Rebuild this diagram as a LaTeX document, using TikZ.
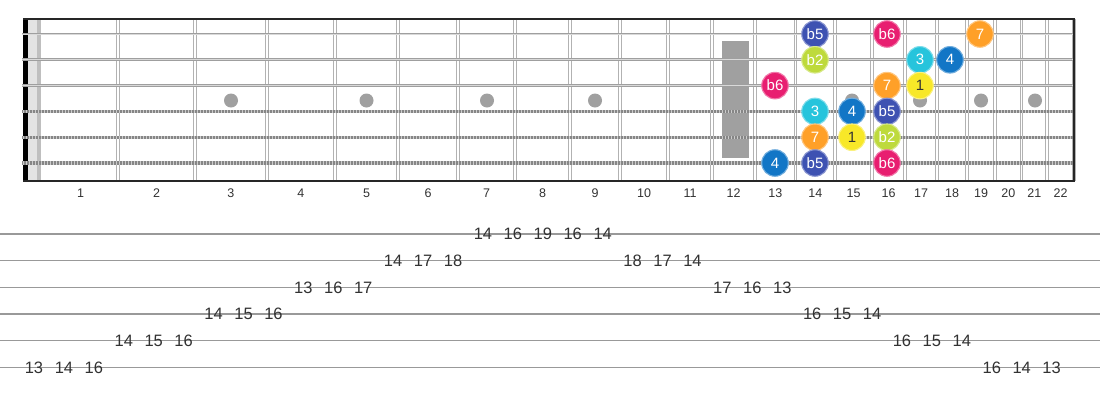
\documentclass[tikz,border=0pt]{standalone}
\usepackage{fontspec}
\setmainfont{Liberation Sans}
\definecolor{cflat5}{RGB}{62,82,178}
\definecolor{cflat6}{RGB}{232,30,112}
\definecolor{cseven}{RGB}{255,160,40}
\definecolor{cflat2}{RGB}{190,218,60}
\definecolor{cthree}{RGB}{38,196,220}
\definecolor{cfour}{RGB}{18,118,198}
\definecolor{cone}{RGB}{248,232,40}
\definecolor{inlay}{RGB}{160,160,160}
\definecolor{txt}{RGB}{50,50,50}
\tikzset{
  fret/.style={draw=gray!60, double=white, double distance=1.8pt, line width=0.9pt},
  plainstr/.style={draw=gray!75, double=gray!30, double distance=1pt, line width=0.9pt},
  woundstr/.style={draw=gray!40, line width=3.4pt},
  woundtex/.style={draw=gray!95, line width=3.4pt, dash pattern=on 0.7pt off 0.8pt},
  fretdot/.style={circle, fill=inlay, minimum size=14pt, inner sep=0pt},
  fretnum/.style={text=txt, font=\fontsize{12.5}{15}\selectfont},
  note/.style={circle, minimum size=26.5pt, inner sep=0pt, line width=1.1pt,
    text=white, font=\fontsize{15}{17}\selectfont},
  tabline/.style={draw=gray!80, line width=1.5pt},
  tabnum/.style={text=txt, inner sep=0pt, font=\fontsize{16.5}{19}\selectfont}
}
\begin{document}
\begin{tikzpicture}[x=1pt,y=-1pt]
\useasboundingbox (0,0) rectangle (1100,400);
% nut
\fill[black] (23,19) rectangle (28,181);
\fill[gray!22] (28,19) rectangle (37,181);
\fill[gray!50] (37,19) rectangle (41,181);
% frets with their numbers
\foreach \x [remember=\x as \lastx (initially 43), count=\n] in {118,195,266.7,335,398,458,515,570,620,668,712,755,795.5,835,872,905,937,967,995,1021.5,1047,1074}{
  \draw[fret] (\x,19) -- (\x,181);
  \node[fretnum] (fn\n) at ({(\x+\lastx)/2},193.5) {\n};
}
% inlays
\foreach \f/\x in {3/231,5/366.5,7/487,9/595,15/852,17/920,19/981,21/1035}
  \node[fretdot] (dot\f) at (\x,100.5) {};
\fill[inlay] (722,40.5) rectangle (748.5,158);
% strings
\foreach \s/\y in {1/34,2/59.8,3/85.6}
  \draw[plainstr] (22,\y) -- (1074,\y);
\foreach \s/\y in {4/111.4,5/137.2,6/163}{
  \draw[woundstr] (22,\y) -- (1074,\y);
  \draw[woundtex] (22,\y) -- (1074,\y);
}
% border
\draw[line width=1.6pt, black!85] (23,19) -- (1074,19) -- (1074,181) -- (23,181);

% scale notes
\node[note, fill=cflat5, draw=cflat5!60!white] (e14) at (815,34) {b5};
\node[note, fill=cflat6, draw=cflat6!60!white] (e16) at (887,34) {b6};
\node[note, fill=cseven, draw=cseven!60!white] (e19) at (980,34) {7};
\node[note, fill=cflat2, draw=cflat2!60!white] (b14) at (815,59.8) {b2};
\node[note, fill=cthree, draw=cthree!60!white] (b17) at (920,59.8) {3};
\node[note, fill=cfour, draw=cfour!60!white] (b18) at (950,59.8) {4};
\node[note, fill=cflat6, draw=cflat6!60!white] (g13) at (775,85.6) {b6};
\node[note, fill=cseven, draw=cseven!60!white] (g16) at (887,85.6) {7};
\node[note, fill=cone, draw=cone!60!white, text=black!80] (g17) at (920,85.6) {1};
\node[note, fill=cthree, draw=cthree!60!white] (d14) at (815,111.4) {3};
\node[note, fill=cfour, draw=cfour!60!white] (d15) at (852,111.4) {4};
\node[note, fill=cflat5, draw=cflat5!60!white] (d16) at (887,111.4) {b5};
\node[note, fill=cseven, draw=cseven!60!white] (a14) at (815,137.2) {7};
\node[note, fill=cone, draw=cone!60!white, text=black!80] (a15) at (852,137.2) {1};
\node[note, fill=cflat2, draw=cflat2!60!white] (a16) at (887,137.2) {b2};
\node[note, fill=cfour, draw=cfour!60!white] (lo13) at (775,163) {4};
\node[note, fill=cflat5, draw=cflat5!60!white] (lo14) at (815,163) {b5};
\node[note, fill=cflat6, draw=cflat6!60!white] (lo16) at (887,163) {b6};

% tab
\foreach \y in {234,260.7,287.3,314,340.7,367.3}
  \draw[tabline] (0,\y) -- (1100,\y);
\foreach \s/\v [count=\k from 0] in {6/13,6/14,6/16,5/14,5/15,5/16,4/14,4/15,4/16,
    3/13,3/16,3/17,2/14,2/17,2/18,1/14,1/16,1/19,1/16,1/14,2/18,2/17,2/14,
    3/17,3/16,3/13,4/16,4/15,4/14,5/16,5/15,5/14,6/16,6/14,6/13}
  \node[tabnum] (t\k) at ({34+29.93*\k},{234+26.67*(\s-1)}) {\v};
\end{tikzpicture}
\end{document}
